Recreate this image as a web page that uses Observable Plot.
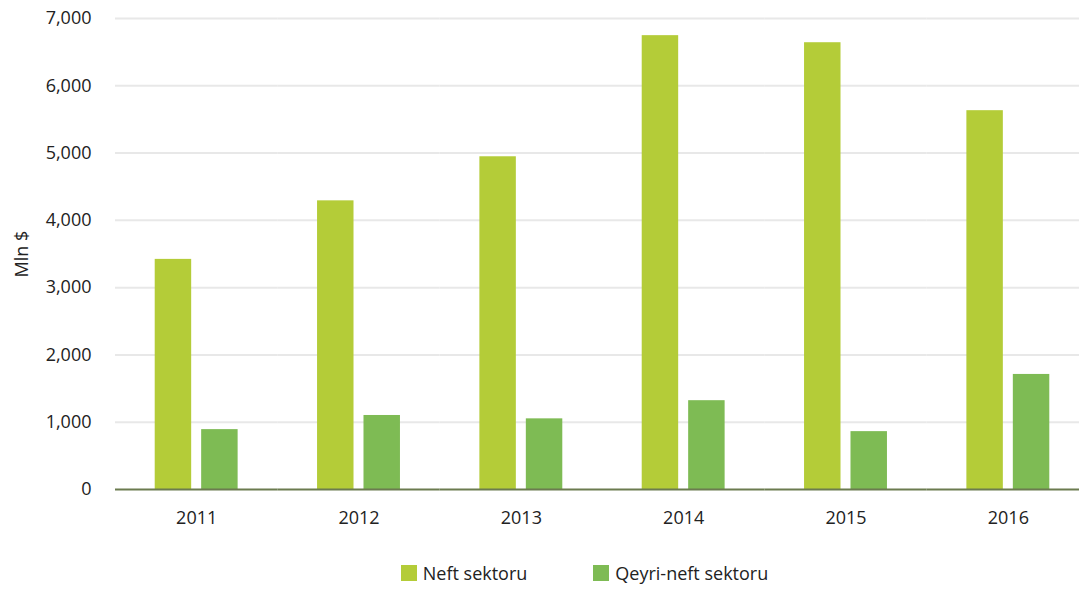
<!DOCTYPE html>
<html>
<head>
<meta charset="utf-8">
<script src="https://cdn.jsdelivr.net/npm/d3@7"></script>
<script src="https://cdn.jsdelivr.net/npm/@observablehq/plot@0.6"></script>
<style>
  html, body { margin: 0; padding: 0; background: #fff; overflow: hidden; }
  #chart svg { display: block; }
  .legend { display: flex; justify-content: center; gap: 66px; font-family: "Open Sans", sans-serif; font-size: 18px; color: #222; margin-top: 21px; padding-left: 90px; }
  .legend span.item { display: flex; align-items: center; }
  .legend span.sw { display: inline-block; width: 16px; height: 16px; margin-right: 6px; }
</style>
</head>
<body>
<div id="chart"></div>
<div class="legend" id="legend"></div>
<script>
const years = ["2011", "2012", "2013", "2014", "2015", "2016"];
const seriesNames = ["Neft sektoru", "Qeyri-neft sektoru"];
const neft = [3420, 4290, 4945, 6745, 6640, 5630];
const qeyriNeft = [890, 1100, 1050, 1320, 860, 1710];
const colors = ["#b4cc38", "#7ebb54"];
const yTicks = [0, 1000, 2000, 3000, 4000, 5000, 6000, 7000];

const data = [];
years.forEach((y, i) => {
  data.push({year: y, series: seriesNames[0], value: neft[i]});
  data.push({year: y, series: seriesNames[1], value: qeyriNeft[i]});
});

const chart = Plot.plot({
  width: 1079,
  height: 540,
  marginLeft: 115,
  marginRight: -10,
  marginTop: 18,
  marginBottom: 51,
  style: {fontFamily: "Open Sans, sans-serif", fontSize: "18px", color: "#222", background: "#fff"},
  fx: {domain: years, padding: 0, round: false, label: null, tickSize: 0, tickPadding: 22, axis: "bottom"},
  x: {domain: seriesNames, axis: null, round: false, paddingInner: 0.215, paddingOuter: 0.855},
  y: {domain: [0, 7000], ticks: yTicks, tickFormat: d3.format(","), tickSize: 0, tickPadding: 24,
      label: "Mln $", labelAnchor: "center", labelArrow: "none", labelOffset: 100},
  color: {domain: seriesNames, range: colors},
  marks: [
    Plot.ruleY(yTicks.slice(1), {stroke: "#e8e8e8", strokeWidth: 2}),
    Plot.barY(data, {fx: "year", x: "series", y: "value", fill: "series"}),
    Plot.ruleY([0], {stroke: "#6b7b4f", strokeWidth: 2})
  ]
});
document.getElementById("chart").appendChild(chart);

const legend = document.getElementById("legend");
seriesNames.forEach((s, i) => {
  const item = document.createElement("span");
  item.className = "item";
  const sw = document.createElement("span");
  sw.className = "sw";
  sw.style.background = colors[i];
  item.appendChild(sw);
  item.appendChild(document.createTextNode(s));
  legend.appendChild(item);
});
</script>
</body>
</html>
